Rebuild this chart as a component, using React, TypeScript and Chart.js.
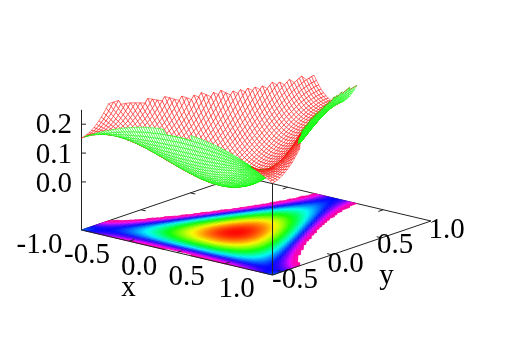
import React, { useEffect, useRef } from "react";
import { Chart, registerables } from "chart.js";

Chart.register(...registerables);

// Grid of the surface: |x| values (columns) and y values (rows)
const xGrid = [0, 0.025, 0.05, 0.075, 0.1, 0.125, 0.15, 0.175, 0.2, 0.225, 0.25, 0.275, 0.3, 0.325, 0.35, 0.375, 0.4, 0.425, 0.45, 0.475, 0.5, 0.525, 0.55, 0.575, 0.6, 0.625, 0.65, 0.675, 0.7, 0.725, 0.75, 0.775, 0.8, 0.825, 0.85, 0.875, 0.9, 0.925, 0.95, 0.975, 1];
const yGrid = [-0.6, -0.575, -0.55, -0.525, -0.5, -0.475, -0.45, -0.425, -0.4, -0.375, -0.35, -0.325, -0.3, -0.275, -0.25, -0.225, -0.2, -0.175, -0.15, -0.125, -0.1, -0.075, -0.05, -0.025, 0, 0.025, 0.05, 0.075, 0.1, 0.125, 0.15, 0.175, 0.2, 0.225, 0.25, 0.275, 0.3, 0.325, 0.35, 0.375, 0.4, 0.425, 0.45, 0.475, 0.5, 0.525, 0.55, 0.575, 0.6, 0.625, 0.65, 0.675, 0.7, 0.725, 0.75, 0.775, 0.8, 0.825, 0.85, 0.875, 0.9, 0.925, 0.95, 0.975, 1];
// Height per row, by |x|; each row ends just past the top of the z range
const zRows: number[][] = [
  [.252, .252, .252, .251, .251, .2504, .2498, .249, .248, .247, .246, .244, .243, .241, .24, .238, .236, .234, .232, .229, .227, .224, .222, .219, .216, .213, .21, .206, .203, .199, .196, .192, .188, .184, .18, .175, .171, .166, .162, .157, .152],
  [.229, .229, .229, .228, .228, .227, .227, .226, .226, .225, .224, .223, .222, .221, .22, .218, .217, .215, .214, .212, .21, .208, .206, .204, .202, .199, .197, .194, .192, .189, .186, .184, .181, .178, .175, .171, .168, .165, .161, .157, .154],
  [.207, .207, .207, .206, .206, .206, .206, .205, .205, .204, .204, .203, .202, .201, .201, .2, .199, .198, .197, .195, .194, .193, .192, .19, .189, .187, .186, .184, .182, .18, .179, .177, .175, .173, .171, .168, .166, .164, .162, .159, .157],
  [.186, .186, .186, .186, .186, .186, .185, .185, .185, .185, .184, .184, .184, .183, .183, .182, .182, .181, .181, .18, .18, .179, .178, .178, .177, .176, .175, .175, .174, .173, .172, .171, .17, .169, .168, .167, .166, .165, .163, .162, .161],
  [.167, .167, .167, .167, .167, .167, .167, .167, .167, .167, .167, .167, .167, .167, .167, .167, .167, .167, .167, .167, .167, .167, .167, .167, .167, .167, .167, .167, .167, .167, .167, .167, .167, .167, .167, .167, .167, .167, .167, .167, .167],
  [.149, .149, .149, .149, .149, .149, .149, .149, .15, .15, .15, .15, .151, .151, .152, .152, .152, .153, .154, .154, .155, .155, .156, .157, .158, .158, .159, .16, .161, .162, .163, .164, .165, .166, .167, .168, .169, .17, .171, .172, .174],
  [.132, .132, .132, .132, .132, .132, .133, .133, .134, .134, .135, .135, .136, .137, .138, .139, .14, .141, .142, .143, .144, .145, .147, .148, .15, .151, .153, .154, .156, .158, .16, .162, .164, .166, .168, .17, .172, .174, .177, .179, .182],
  [.116, .116, .116, .116, .117, .117, .118, .118, .119, .12, .121, .122, .123, .124, .125, .126, .128, .129, .131, .133, .135, .137, .139, .141, .143, .145, .148, .15, .153, .155, .158, .161, .164, .167, .17, .173, .177, .18, .184, .187, .191],
  [.101, .101, .102, .102, .102, .103, .104, .104, .105, .106, .108, .109, .11, .112, .114, .115, .117, .119, .122, .124, .126, .129, .132, .134, .137, .14, .144, .147, .15, .154, .158, .161, .165, .169, .174, .178, .182, .187, .192, .196, .201],
  [.088, .088, .088, .089, .089, .09, .091, .092, .093, .094, .096, .097, .099, .101, .103, .105, .108, .11, .113, .116, .119, .122, .126, .129, .133, .137, .141, .145, .149, .154, .158, .163, .168, .173, .178, .184, .189, .195, .201, .207, .213],
  [.076, .076, .076, .076, .077, .078, .079, .08, .081, .083, .085, .087, .089, .091, .094, .097, .1, .103, .106, .109, .113, .117, .121, .125, .13, .134, .139, .144, .149, .154, .16, .166, .172, .178, .184, .19, .197, .204, .211, .218, .226],
  [.064, .064, .065, .065, .066, .067, .068, .07, .071, .073, .075, .078, .08, .083, .086, .089, .092, .096, .1, .104, .108, .113, .117, .122, .127, .133, .138, .144, .15, .156, .163, .169, .176, .183, .191, .198, .206, .214, .222, .231, .239],
  [.054, .054, .055, .055, .056, .057, .059, .06, .062, .064, .067, .069, .072, .075, .079, .082, .086, .09, .095, .099, .104, .109, .115, .12, .126, .132, .139, .145, .152, .159, .167, .174, .182, .19, .199, .207, .216, .225, .235, .244, .254],
  [.045, .045, .045, .046, .047, .048, .05, .052, .054, .056, .059, .062, .065, .068, .072, .076, .081, .085, .09, .095, .101, .107, .113, .119, .126, .133, .14, .147, .155, .163, .171, .18, .189, .198, .207, .217, .227, .237, .248, .259, .27],
  [.037, .037, .037, .038, .039, .04, .042, .044, .047, .049, .052, .055, .059, .063, .067, .072, .077, .082, .087, .093, .099, .105, .112, .119, .127, .134, .142, .15, .159, .168, .177, .187, .197, .207, .217, .228, .239, .2504, .262, .274, .287],
  [.029, .029, .03, .031, .032, .033, .035, .038, .04, .043, .046, .05, .054, .058, .063, .068, .073, .079, .085, .091, .098, .105, .112, .12, .128, .137, .145, .154, .164, .174, .184, .194, .205, .216, .228, .24, .252, .264, .277, .291, .304],
  [.023, .023, .023, .024, .026, .027, .029, .032, .035, .038, .041, .045, .05, .054, .059, .065, .071, .077, .083, .09, .098, .105, .113, .122, .131, .14, .15, .159, .17, .18, .191, .203, .215, .227, .239, .252, .266, .279, .293, .308],
  [.017, .017, .018, .019, .02, .022, .024, .027, .03, .034, .037, .042, .046, .051, .057, .063, .069, .076, .083, .09, .098, .107, .115, .125, .134, .144, .154, .165, .176, .188, .2, .212, .225, .238, .252, .266, .28, .295, .31],
  [.012, .013, .013, .014, .016, .018, .02, .023, .026, .03, .034, .039, .044, .049, .055, .062, .068, .076, .083, .091, .1, .109, .118, .128, .138, .149, .16, .172, .184, .196, .209, .223, .236, .251, .265, .28, .296],
  [.009, .009, .009, .011, .012, .014, .017, .02, .024, .028, .032, .037, .042, .048, .054, .061, .069, .076, .084, .093, .102, .112, .122, .132, .144, .155, .167, .179, .192, .206, .219, .234, .249, .264, .279, .296],
  [.005, .006, .006, .008, .009, .012, .014, .018, .021, .026, .03, .036, .041, .048, .054, .062, .069, .078, .086, .096, .105, .116, .126, .138, .149, .162, .174, .188, .201, .216, .23, .246, .261, .278, .294],
  [.003, .003, .004, .005, .007, .01, .013, .016, .02, .025, .03, .035, .041, .048, .055, .063, .071, .08, .089, .099, .109, .12, .132, .144, .156, .169, .183, .197, .211, .226, .242, .258, .275, .292],
  [.001, .002, .002, .004, .006, .008, .011, .015, .019, .024, .029, .035, .042, .049, .056, .065, .073, .083, .092, .103, .114, .125, .137, .15, .163, .177, .192, .206, .222, .238, .254, .272, .289],
  [0, .001, .002, .003, .005, .008, .011, .015, .019, .024, .03, .036, .043, .05, .058, .067, .076, .086, .097, .108, .119, .131, .144, .157, .171, .186, .201, .217, .233, .2499, .267, .286],
  [0, 0, .001, .003, .005, .008, .011, .015, .02, .025, .031, .038, .045, .053, .061, .07, .08, .09, .101, .113, .125, .138, .151, .165, .18, .195, .211, .228, .245, .263, .281],
  [0, .001, .002, .003, .006, .008, .012, .016, .021, .027, .033, .04, .048, .056, .065, .074, .084, .095, .107, .119, .132, .145, .159, .174, .189, .205, .222, .239, .258, .276, .296],
  [.001, .002, .003, .004, .007, .01, .014, .018, .023, .029, .036, .043, .051, .059, .069, .079, .089, .101, .113, .125, .139, .153, .168, .183, .199, .216, .234, .252, .271, .29],
  [.003, .003, .004, .006, .008, .012, .016, .02, .026, .032, .039, .046, .054, .063, .073, .084, .095, .107, .119, .132, .146, .161, .177, .193, .21, .227, .246, .265, .284],
  [.005, .005, .006, .008, .011, .014, .018, .023, .029, .035, .042, .05, .059, .068, .078, .089, .101, .113, .126, .14, .155, .17, .186, .203, .221, .239, .258, .278],
  [.007, .008, .009, .011, .013, .017, .021, .026, .032, .039, .046, .054, .064, .073, .084, .095, .107, .12, .134, .148, .164, .18, .196, .214, .232, .251, .271, .292],
  [.01, .01, .012, .014, .017, .02, .025, .03, .036, .043, .051, .059, .069, .079, .09, .102, .114, .127, .142, .157, .173, .189, .207, .225, .244, .264, .285],
  [.014, .014, .015, .017, .02, .024, .029, .034, .041, .048, .056, .065, .074, .085, .096, .108, .122, .135, .15, .166, .182, .2, .218, .237, .257, .277],
  [.017, .018, .019, .021, .024, .028, .033, .039, .045, .053, .061, .07, .08, .091, .103, .116, .129, .144, .159, .175, .192, .21, .229, .249, .269, .291],
  [.022, .022, .023, .026, .029, .033, .038, .044, .051, .058, .067, .076, .087, .098, .11, .123, .138, .153, .168, .185, .203, .221, .241, .261, .283],
  [.026, .026, .028, .03, .034, .038, .043, .049, .056, .064, .073, .083, .094, .105, .118, .131, .146, .161, .178, .195, .214, .233, .253, .274, .296],
  [.031, .031, .033, .035, .039, .043, .048, .055, .062, .07, .079, .089, .101, .113, .126, .14, .155, .171, .188, .206, .225, .245, .265, .287],
  [.036, .036, .038, .04, .044, .048, .054, .06, .068, .076, .086, .096, .108, .12, .134, .148, .164, .18, .198, .216, .236, .256, .278],
  [.041, .042, .043, .046, .05, .054, .06, .067, .074, .083, .093, .104, .116, .129, .142, .157, .173, .19, .209, .228, .248, .269, .291],
  [.047, .048, .049, .052, .056, .06, .066, .073, .081, .09, .1, .111, .124, .137, .151, .167, .183, .201, .219, .239, .26, .281],
  [.053, .053, .055, .058, .061, .066, .072, .079, .088, .097, .107, .119, .131, .145, .16, .176, .193, .211, .23, .2501, .271, .294],
  [.059, .059, .061, .064, .068, .073, .079, .086, .095, .104, .115, .127, .14, .154, .169, .185, .203, .221, .241, .262, .284],
  [.065, .065, .067, .07, .074, .079, .085, .093, .102, .111, .123, .135, .148, .162, .178, .195, .213, .232, .252, .273, .296],
  [.071, .071, .073, .076, .08, .086, .092, .1, .109, .119, .13, .143, .156, .171, .187, .204, .223, .242, .263, .285],
  [.077, .078, .08, .083, .087, .092, .099, .107, .116, .126, .138, .151, .165, .18, .197, .214, .233, .253, .275, .297],
  [.083, .084, .086, .089, .093, .099, .106, .114, .123, .134, .146, .159, .173, .189, .206, .224, .243, .264, .286],
  [.09, .09, .092, .095, .1, .106, .113, .121, .131, .141, .154, .167, .182, .198, .215, .234, .254, .275, .297],
  [.096, .097, .098, .102, .106, .112, .119, .128, .138, .149, .161, .175, .19, .207, .224, .243, .264, .285],
  [.102, .103, .105, .108, .113, .119, .126, .135, .145, .156, .169, .183, .199, .215, .234, .253, .274, .296],
  [.108, .109, .111, .114, .119, .125, .133, .142, .152, .164, .177, .191, .207, .224, .243, .263, .284],
  [.114, .115, .117, .12, .125, .131, .139, .148, .159, .171, .184, .199, .215, .233, .252, .272, .294],
  [.12, .12, .123, .126, .131, .138, .146, .155, .166, .178, .192, .207, .223, .241, .261, .281],
  [.125, .126, .128, .132, .137, .144, .152, .161, .172, .185, .199, .214, .231, .249, .269, .291],
  [.131, .131, .134, .137, .143, .149, .158, .167, .179, .191, .206, .221, .239, .257, .278],
  [.136, .137, .139, .143, .148, .155, .163, .173, .185, .198, .212, .228, .246, .265, .286],
  [.141, .141, .144, .148, .153, .16, .169, .179, .191, .204, .219, .235, .253, .273, .294],
  [.145, .146, .148, .152, .158, .165, .174, .184, .196, .21, .225, .242, .26, .28],
  [.149, .15, .153, .157, .162, .17, .179, .189, .201, .215, .231, .248, .266, .287],
  [.153, .154, .156, .161, .166, .174, .183, .194, .206, .22, .236, .253, .272, .293],
  [.157, .157, .16, .164, .17, .178, .187, .198, .211, .225, .241, .259, .278],
  [.16, .16, .163, .167, .173, .181, .19, .202, .215, .229, .245, .263, .283],
  [.162, .163, .166, .17, .176, .184, .194, .205, .218, .233, .2495, .268, .288],
  [.164, .165, .168, .172, .178, .186, .196, .208, .221, .236, .253, .272, .292],
  [.166, .166, .169, .174, .18, .188, .198, .21, .224, .239, .256, .275],
  [.166, .167, .17, .175, .181, .189, .2, .212, .225, .241, .259, .278],
  [.167, .168, .17, .175, .182, .19, .2, .213, .227, .243, .26, .28],
];

const xTicks = [-0.5, 0, 0.5];
const yTicks = [-0.5, 0, 0.5];
const zTicks = [0, 0.1, 0.2];
const zTickLabels = ["0.0", "0.1", "0.2"];
const xTickLabels = ["-1.0", "-0.5", "0.0", "0.5", "1.0"];
const yTickLabels = ["-0.5", "0.0", "0.5", "1.0"];

const XMIN = -1, XMAX = 1, YMIN = -0.6, YMAX = 1, ZMIN = -1 / 6, ZMAX = 0.25;
const LAST_X = xGrid.length - 1;

// The plot's fixed view: screen units per data unit
const project = (x: number, y: number, z: number) => ({
  x: 81.5 + (x - XMIN) * 95.5 + (y - YMIN) * 99.06,
  y: 230 + (x - XMIN) * 22.5 - (y - YMIN) * 33.75 - (z - ZMIN) * 288.5,
});

const zAt = (i: number, j: number): number | null => {
  const v = zRows[j][Math.abs(i)];
  return v === undefined ? null : v;
};
const xAt = (i: number) => (i < 0 ? -xGrid[-i] : xGrid[i]);

const hue = (v: number) => Math.min(Math.max(v, 0) * 1440, 322);
const heatColor = (v: number) => `hsl(${hue(v)},100%,50%)`;

type P3 = { x: number; y: number; z: number };

// The corners of a cell that lie inside the z range; points above it are dropped.
const cellPath = (i: number, j: number): P3[] => {
  const out: P3[] = [];
  for (const [a, b] of [[i, j], [i + 1, j], [i + 1, j + 1], [i, j + 1]]) {
    const z = zAt(a, b);
    if (z !== null && z <= ZMAX) out.push({ x: xAt(a), y: yGrid[b], z });
  }
  if (out.length < 2) return [];
  if (out.length === 2) {
    const adjacent = out[0].x === out[1].x || out[0].y === out[1].y;
    return adjacent ? out : [];
  }
  return [...out, out[0]];
};

const line = (pts: { x: number; y: number }[], color: string, width: number) => ({
  data: pts, borderColor: color, borderWidth: width, fill: false, pointRadius: 0, tension: 0, spanGaps: false,
});

function buildDatasets(ctx: CanvasRenderingContext2D) {
  const paint: any[] = [];
  const AXIS = "#222222";
  const c = (x: number, y: number, z = ZMIN) => project(x, y, z);

  // Back of the box, with mirrored ticks
  paint.push(line([c(XMIN, YMIN), c(XMIN, YMAX), c(XMAX, YMAX)], AXIS, 1));
  for (const t of xTicks) paint.push(line([c(t, YMAX), c(t, YMAX - 0.05)], AXIS, 1));
  for (const t of yTicks) paint.push(line([c(XMIN, t), c(XMIN + 0.05, t)], AXIS, 1));

  // Map on the base plane
  for (let j = 0; j < yGrid.length - 1; j++) {
    for (let i = -LAST_X; i < LAST_X; i++) {
      const path = cellPath(i, j);
      if (path.length < 3) continue;
      const z00 = zAt(i, j), z10 = zAt(i + 1, j), z11 = zAt(i + 1, j + 1), z01 = zAt(i, j + 1);
      const a = c(xAt(i), yGrid[j]), b = c(xAt(i + 1), yGrid[j]), e = c(xAt(i), yGrid[j + 1]);
      const pts = path.map((q) => c(q.x, q.y));
      let style: any = heatColor(path.reduce((s, q) => s + q.z, 0) / path.length);
      if (z00 !== null && z10 !== null && z11 !== null && z01 !== null) {
        const mean = (z00 + z10 + z11 + z01) / 4;
        const dv1 = (z10 - z00 + z11 - z01) / 2;
        const dv2 = (z01 - z00 + z11 - z10) / 2;
        const ex1 = b.x - a.x, ey1 = b.y - a.y, ex2 = e.x - a.x, ey2 = e.y - a.y;
        const det = ex1 * ey2 - ex2 * ey1;
        const gx = (dv1 * ey2 - dv2 * ey1) / det;
        const gy = (ex1 * dv2 - ex2 * dv1) / det;
        const len = Math.hypot(gx, gy);
        if (len > 1e-6) {
          const cx = (b.x + e.x) / 2, cy = (b.y + e.y) / 2;
          const s = 6;
          const g = ctx.createLinearGradient(cx - (gx / len) * s, cy - (gy / len) * s, cx + (gx / len) * s, cy + (gy / len) * s);
          for (let k = 0; k <= 2; k++) {
            const t = k / 2;
            g.addColorStop(t, heatColor(mean + len * s * (2 * t - 1)));
          }
          style = g;
        }
      }
      paint.push({
        data: pts, backgroundColor: style, borderColor: style, borderWidth: 0.6,
        fill: "shape", pointRadius: 0, tension: 0,
      });
    }
  }

  // Front of the box
  paint.push(line([c(XMIN, YMIN), c(XMAX, YMIN), c(XMAX, YMAX)], AXIS, 1));
  for (const t of xTicks) paint.push(line([c(t, YMIN), c(t, YMIN + 0.05)], AXIS, 1));
  for (const t of yTicks) paint.push(line([c(XMAX, t), c(XMAX - 0.05, t)], AXIS, 1));
  paint.push(line([c(XMIN, YMIN), c(XMIN, YMIN, ZMAX)], AXIS, 1));
  for (const t of zTicks) {
    const p = c(XMIN, YMIN, t);
    paint.push(line([p, { x: p.x + 4.5, y: p.y }], AXIS, 1));
  }
  paint.push(line([c(XMAX, YMIN), c(XMAX, YMIN, zAt(LAST_X, 0) as number)], AXIS, 1));

  // Surface, far cells first, each one hiding what lies behind it
  const cells: { key: number; path: P3[] }[] = [];
  for (let j = 0; j < yGrid.length - 1; j++) {
    for (let i = -LAST_X; i < LAST_X; i++) {
      const path = cellPath(i, j);
      if (!path.length) continue;
      cells.push({ key: xAt(i) * 22.5 - yGrid[j] * 33.75, path });
    }
  }
  cells.sort((a, b) => a.key - b.key);
  for (const { path } of cells) {
    const pts = path.map((q) => c(q.x, q.y, q.z));
    if (path.length === 2) {
      paint.push(line(pts, path[0].y < -0.4 ? "#00ff00" : "#ff0000", 0.5));
      continue;
    }
    let area = 0;
    pts.forEach((p, k) => {
      const n = pts[(k + 1) % pts.length];
      area += p.x * n.y - n.x * p.y;
    });
    paint.push({
      data: pts, backgroundColor: "#ffffff", borderColor: area < 0 ? "#ff0000" : "#00ff00",
      borderWidth: 0.5, fill: "shape", pointRadius: 0, tension: 0,
    });
  }
  return paint.reverse();
}

const labelsPlugin = {
  id: "boxLabels",
  afterDatasetsDraw(chart: any) {
    const { ctx, scales } = chart;
    const put = (text: string, x: number, y: number, font = 29) => {
      ctx.font = `${font}px "Liberation Serif"`;
      ctx.fillText(text, scales.x.getPixelForValue(x), scales.y.getPixelForValue(y));
    };
    ctx.save();
    ctx.fillStyle = "#000000";
    ctx.textBaseline = "alphabetic";
    ctx.textAlign = "right";
    zTickLabels.forEach((t, k) => put(t, 72, [192, 163, 133][k]));
    ctx.textAlign = "center";
    xTickLabels.forEach((t, k) => {
      const p = [[39.5, 253], [87, 263], [139, 275], [186.5, 285], [236.5, 297]][k];
      put(t, p[0], p[1]);
    });
    yTickLabels.forEach((t, k) => {
      const p = [[295, 288], [345.5, 272], [395, 253], [446.5, 238]][k];
      put(t, p[0], p[1]);
    });
    put("x", 128.5, 296);
    put("y", 386.5, 284);
    ctx.restore();
  },
};

export default function App() {
  const ref = useRef<HTMLCanvasElement | null>(null);
  useEffect(() => {
    const canvas = ref.current!;
    const ctx = canvas.getContext("2d")!;
    const chart = new Chart(canvas, {
      type: "line",
      data: { datasets: buildDatasets(ctx) },
      plugins: [labelsPlugin],
      options: {
        animation: false,
        responsive: false,
        events: [],
        layout: { padding: 0 },
        plugins: { legend: { display: false }, tooltip: { enabled: false } },
        scales: {
          x: { type: "linear", display: false, min: 0, max: 514 },
          y: { type: "linear", display: false, min: 0, max: 360, reverse: true },
        },
      },
    } as any);
    return () => chart.destroy();
  }, []);
  return (
    <div style={{ position: "fixed", left: 0, top: 0, width: 514, height: 360, background: "#fff" }}>
      <canvas ref={ref} width={514} height={360} style={{ display: "block" }} />
    </div>
  );
}
